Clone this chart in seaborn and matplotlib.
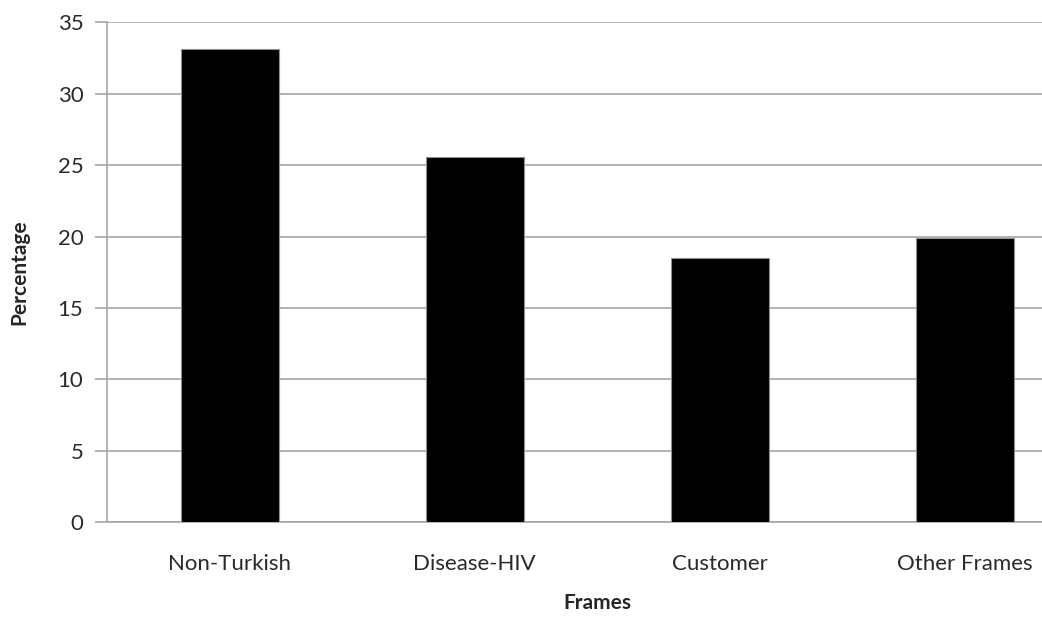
import matplotlib
matplotlib.use('Agg')
import matplotlib.pyplot as plt
import seaborn as sns
import pandas as pd

frames = ['Non-Turkish', 'Disease-HIV', 'Customer', 'Other Frames']
percentage = [33.1, 25.6, 18.5, 19.9]
y_ticks = [0, 5, 10, 15, 20, 25, 30, 35]

data = pd.DataFrame({'Frames': frames, 'Percentage': percentage})

sns.set_style('white')
plt.rcParams['font.family'] = ['Lato', 'DejaVu Sans']

fig = plt.figure(figsize=(10.42, 6.27), dpi=100)
# axes runs past the right edge like in the original screenshot
ax = fig.add_axes([107 / 1042, 104.7 / 627, 980 / 1042, 500 / 627])

sns.barplot(x='Frames', y='Percentage', data=data, color='black', width=0.4,
            edgecolor='#909090', linewidth=0.8, ax=ax, zorder=3)

grid_col = '#a6a6a6'
ax.set_ylim(0, 35)
ax.set_xlim(-0.5, 3.5)
ax.set_yticks(y_ticks)
ax.yaxis.grid(True, color=grid_col, linewidth=1.2, zorder=0)
ax.set_axisbelow(True)

for side in ['top', 'right']:
    ax.spines[side].set_visible(False)
for side in ['left', 'bottom']:
    ax.spines[side].set_color(grid_col)
    ax.spines[side].set_linewidth(1.2)

ax.tick_params(axis='y', which='major', left=True, length=9, width=1.2,
               color=grid_col, labelsize=16, labelcolor='#2a2a2a', pad=8)
ax.tick_params(axis='x', bottom=False, labelsize=16, labelcolor='#2a2a2a', pad=19)

ax.set_xlabel('Frames', fontsize=15, fontweight='bold', labelpad=14)
ax.set_ylabel('Percentage', fontsize=15, fontweight='bold', labelpad=20)

fig.savefig('out.png', dpi=100)
